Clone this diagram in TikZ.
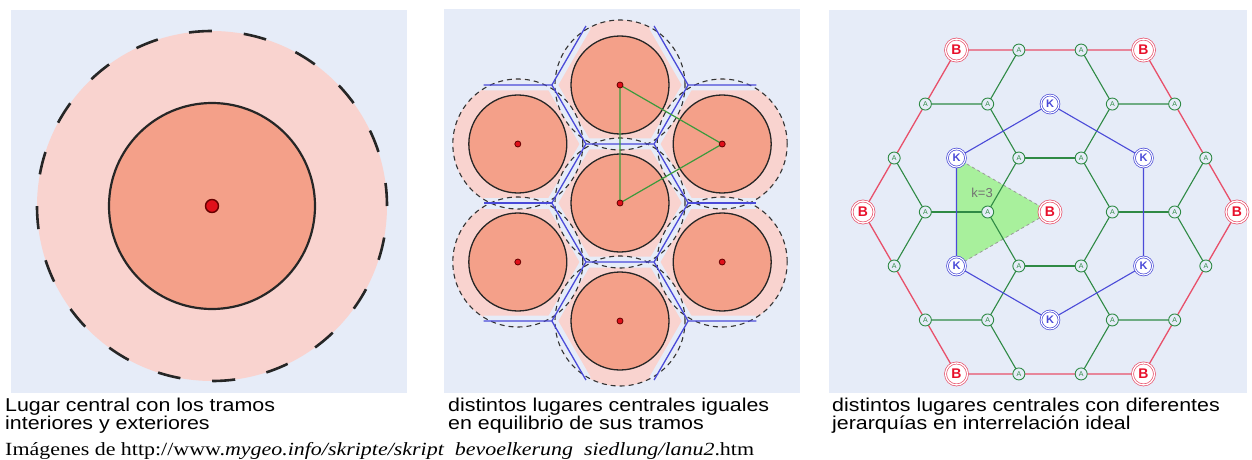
\documentclass[tikz,border=0pt]{standalone}
\usepackage{fontspec}
\setmainfont{Liberation Serif}
\setsansfont{Liberation Sans}
\newfontfamily\capfont[FakeStretch=1.15]{Liberation Sans}
\newfontfamily\srcfont[FakeStretch=1.18]{Liberation Serif}
\definecolor{panelbg}{HTML}{E6ECF8}
\definecolor{zoneout}{HTML}{F9D3CF}
\definecolor{zonein}{HTML}{F4A089}
\definecolor{dotred}{HTML}{E0101A}
\definecolor{netblue}{HTML}{4A4AD8}
\definecolor{netgreen}{HTML}{2F8A45}
\definecolor{netred}{HTML}{E8506A}
\definecolor{bred}{HTML}{E8102A}
\definecolor{tri}{HTML}{3C9A3C}
\definecolor{kfill}{HTML}{A8F09C}
\tikzset{
  panel/.style={fill=panelbg},
  zone/.style={fill=zoneout},
  zonerim/.style={draw=black!80, line width=1.1pt, dash pattern=on 5pt off 4pt},
  core/.style={fill=zonein, draw=black!85, line width=1.3pt},
  place/.style={circle, fill=dotred, draw=black!60!red, line width=0.8pt, inner sep=0pt, minimum size=6pt},
  band/.style={draw=panelbg, line width=11pt, line join=round},
  voronoi/.style={draw=netblue, line width=1.3pt},
  hierB/.style={circle, draw=netred, double=white, double distance=1.3pt, line width=0.7pt,
    fill=white, inner sep=0pt, minimum size=22pt, text=bred,
    font=\sffamily\bfseries\fontsize{14}{14}\selectfont},
  hierK/.style={circle, draw=netblue, double=white, double distance=1.1pt, line width=0.7pt,
    fill=white, inner sep=0pt, minimum size=18pt, text=netblue,
    font=\sffamily\bfseries\fontsize{11}{11}\selectfont},
  hierA/.style={circle, draw=netgreen, line width=0.9pt, fill=panelbg, inner sep=0pt,
    minimum size=12pt, text=netgreen, font=\sffamily\fontsize{7}{7}\selectfont},
  link/.style={draw=netgreen, line width=1.1pt},
  caption/.style={font=\capfont\fontsize{18.6}{18.6}\selectfont, align=left,
    inner sep=0pt, anchor=north west}
}
\newcommand\voronoilines[1]{%
  \draw[#1] (v0) -- (v1) -- (v2) -- (v3) -- (v4) -- (v5) -- cycle;
  \foreach \i in {0,...,5} \draw[#1] (v\i) -- (w\i);
  \draw[#1] (w1) -- ++(0:68.13) (w1) -- ++(120:68.13);
  \draw[#1] (w2) -- ++(180:68.13) (w2) -- ++(60:68.13);
  \draw[#1] (w4) -- ++(180:68.13) (w4) -- ++(300:68.13);
  \draw[#1] (w5) -- ++(0:68.13) (w5) -- ++(240:68.13);
}
\begin{document}
\begin{tikzpicture}[x=1pt,y=-1pt]
\useasboundingbox (0,0) rectangle (1252,460);
\fill[white] (0,0) rectangle (1252,460);

% single central place
\fill[panel] (11,10) rectangle (407,393);
\fill[zone] (212,206) circle (175pt);
\draw[black!85, line width=2.6pt, dash pattern=on 23pt off 32pt] (212,206) circle (175pt);
\draw[core, line width=2.2pt] (212,206) circle (103pt);
\node[place, minimum size=13pt, line width=1.4pt] (p1) at (212,206) {};

% seven equal places
\fill[panel] (444,9) rectangle (800,393);
\begin{scope}[shift={(620,203)}, x=1pt, y=1pt]
  \coordinate (m0) at (0,0);
  \foreach \i in {1,...,6} \coordinate (m\i) at (60*\i-30:118);
  \foreach \i in {0,...,5} {
    \coordinate (v\i) at (60*\i:68.13);
    \coordinate (w\i) at (60*\i:136.26);
  }
  \foreach \i in {0,...,6} \fill[zone] (m\i) circle (65pt);
  \voronoilines{band}
  \foreach \i in {0,...,6} \draw[zonerim] (m\i) circle (65pt);
  \foreach \i in {0,...,6} \draw[core] (m\i) circle (49pt);
  \voronoilines{voronoi}
  \draw[tri, line width=1.2pt] (m2) -- (m0) -- (m1) -- cycle;
  \foreach \i in {0,...,6} \node[place] (q\i) at (m\i) {};
\end{scope}

% hierarchy of places
\fill[panel] (829,10) rectangle (1247,393);
\begin{scope}[shift={(1050,212)}, x=62.33pt, y=62.33pt]
  \coordinate (bc) at (0,0);
  \foreach \i in {0,...,5} {
    \coordinate (b\i) at (60*\i:3);
    \coordinate (k\i) at (60*\i+30:1.7321);
    \coordinate (ai\i) at (60*\i:1);
    \coordinate (am\i) at (60*\i:2);
    \coordinate (ap\i) at (60*\i+19.107:2.6458);
    \coordinate (aq\i) at (60*\i-19.107:2.6458);
  }
  \fill[kfill] (k2) -- (k3) -- (bc) -- cycle;
  \draw[black!40, dashed, line width=0.8pt] (k2) -- (bc) -- (k3);
  \foreach \i [evaluate=\i as \j using {int(mod(\i+1,6))}] in {0,...,5} {
    \draw[link] (ai\i) -- (ai\j);
    \draw[link] (ai\i) -- (am\i);
    \draw[link] (am\i) -- (ap\i);
    \draw[link] (am\i) -- (aq\i);
  }
  \draw[link, line width=2.6pt] (ai0) -- (am0) (ai3) -- (am3) (ai4) -- (ai5);
  \draw[voronoi, line width=1.1pt] (k0) -- (k1) -- (k2) -- (k3) -- (k4) -- (k5) -- cycle;
  \draw[draw=netred, line width=1.3pt] (b0) -- (b1) -- (b2) -- (b3) -- (b4) -- (b5) -- cycle;
  \foreach \i in {0,...,5} {
    \node[hierA] (Ai\i) at (ai\i) {A};
    \node[hierA] (Am\i) at (am\i) {A};
    \node[hierA] (Ap\i) at (ap\i) {A};
    \node[hierA] (Aq\i) at (aq\i) {A};
    \node[hierK] (K\i) at (k\i) {K};
    \node[hierB] (B\i) at (b\i) {B};
  }
  \node[hierB] (B) at (bc) {B};
  \node[font=\sffamily\fontsize{13}{13}\selectfont, text=black!55] (kval) at (-1.09,0.30) {k=3};
\end{scope}

% captions
\node[caption] (cap1) at (5,397.5) {Lugar central con los tramos\\interiores y exteriores};
\node[caption] (cap2) at (448,397.5) {distintos lugares centrales iguales\\en equilibrio de sus tramos};
\node[caption] (cap3) at (832,397.5) {distintos lugares centrales con diferentes\\jerarquías en interrelación ideal};
\node[font=\srcfont\fontsize{18.6}{18.6}\selectfont, inner sep=0pt, anchor=base west] (src) at (5,455)
  {Imágenes de http://www.\textit{mygeo.info/skripte/skript\hphantom{\_}bevoelkerung\hphantom{\_}siedlung/lanu2}.htm};
\end{tikzpicture}
\end{document}
